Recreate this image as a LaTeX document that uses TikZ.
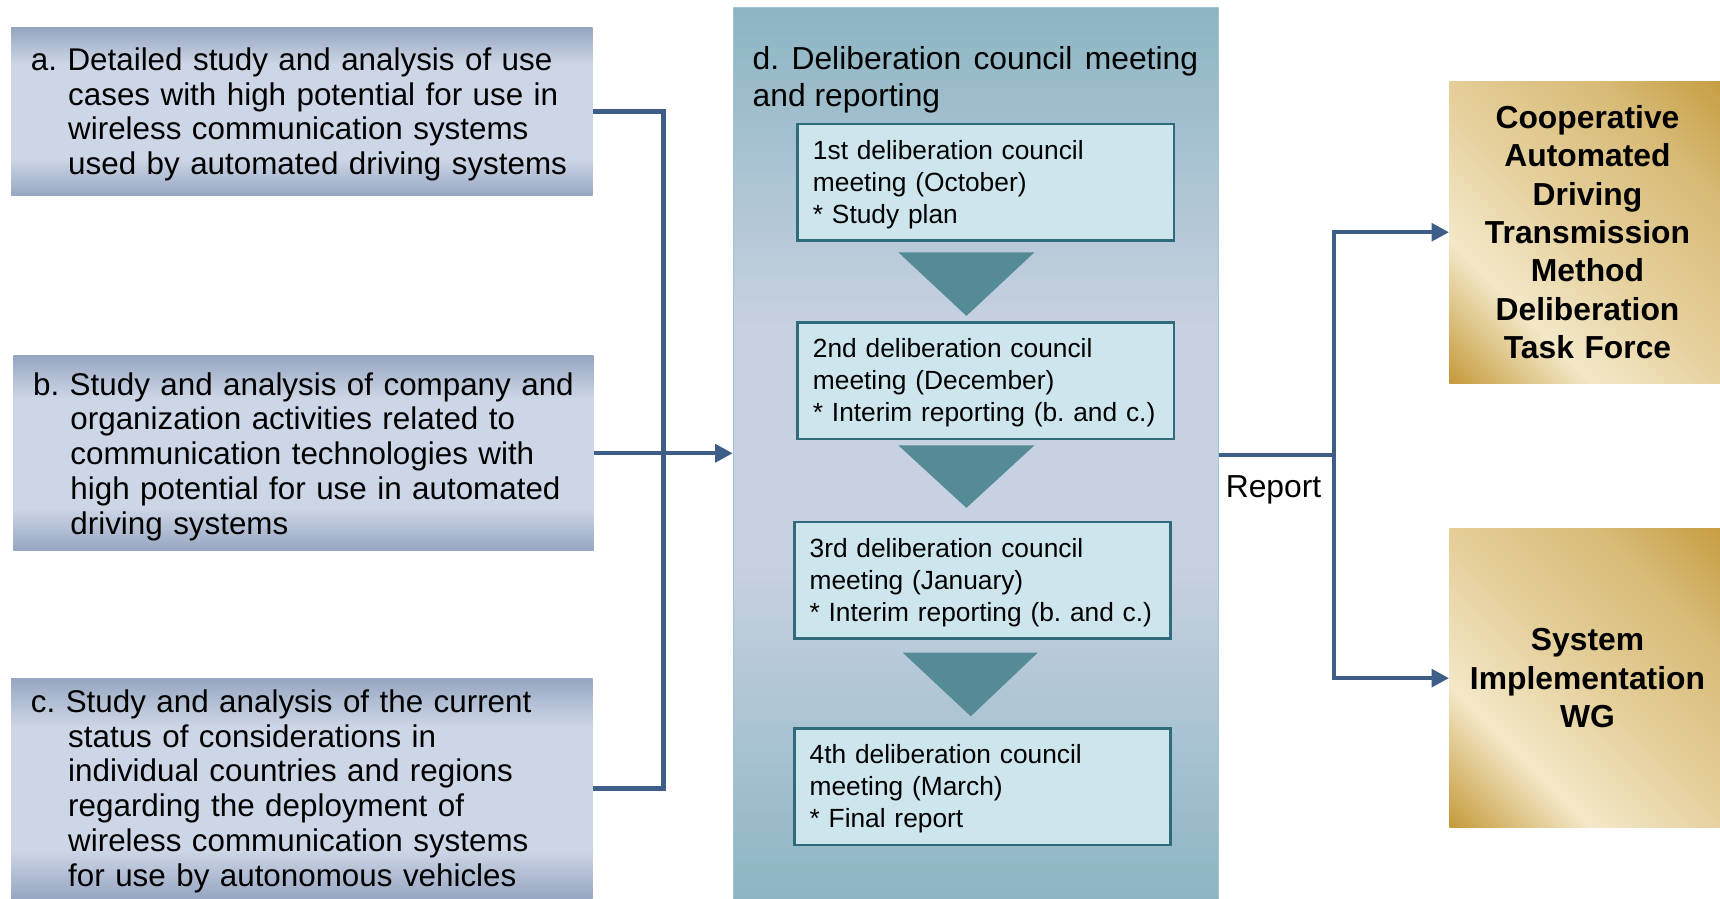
\documentclass[tikz,border=0pt]{standalone}
\usepackage{fontspec}
\setmainfont{Liberation Sans}
\usetikzlibrary{arrows.meta,calc}
\definecolor{conncol}{RGB}{62,94,135}
\definecolor{bluedark}{RGB}{150,166,193}
\definecolor{bluelight}{RGB}{205,214,230}
\definecolor{tealdark}{RGB}{140,181,195}
\definecolor{tealmid}{RGB}{200,209,225}
\definecolor{panelborder}{RGB}{160,195,207}
\definecolor{innerfill}{RGB}{205,229,237}
\definecolor{innerdraw}{RGB}{47,107,122}
\definecolor{trifill}{RGB}{85,139,151}
\definecolor{golddark}{RGB}{198,156,62}
\definecolor{goldmid}{RGB}{215,186,118}
\definecolor{goldlight}{RGB}{243,232,200}
\definecolor{goldpale}{RGB}{229,207,155}
\pgfdeclareverticalshading{bluebox}{100bp}{color(0bp)=(bluedark); color(25bp)=(bluedark); color(36bp)=(bluelight); color(64bp)=(bluelight); color(75bp)=(bluedark); color(100bp)=(bluedark)}
\pgfdeclareverticalshading{panelsh}{100bp}{color(0bp)=(tealdark); color(25bp)=(tealdark); color(44bp)=(tealmid); color(57bp)=(tealmid); color(75bp)=(tealdark); color(100bp)=(tealdark)}
\pgfdeclarehorizontalshading{goldsh}{100bp}{color(0bp)=(golddark); color(15bp)=(golddark); color(32bp)=(goldlight); color(50bp)=(goldpale); color(70bp)=(goldmid); color(86bp)=(golddark); color(100bp)=(golddark)}
\newcommand{\hind}{\hspace*{34pt}}
\newcommand{\shiftdn}[2]{\raisebox{-#1}[\height][\depth]{#2}}
\tikzset{
  lbox/.style={shade, shading=bluebox, anchor=north west, inner xsep=18pt, inner ysep=0pt, align=left, font=\fontsize{28.6pt}{31.7pt}\selectfont},
  ibox/.style={fill=innerfill, draw=innerdraw, line width=2.2pt, anchor=north west, minimum width=343pt, minimum height=106pt, text width=315pt, inner xsep=14pt, inner ysep=0pt, align=left, font=\fontsize{24pt}{29pt}\selectfont},
  gbox/.style={shade, shading=goldsh, shading angle=45, anchor=north west, minimum width=252pt, text width=240pt, inner sep=0pt, align=center, font=\bfseries\fontsize{29pt}{35pt}\selectfont},
  conn/.style={draw=conncol, line width=4pt},
  arr/.style={conn, -{Triangle[length=16pt,width=16pt]}},
  tri/.style={fill=trifill},
}
\begin{document}
\frenchspacing
\begin{tikzpicture}[x=1pt,y=-1pt]
\useasboundingbox (0,0) rectangle (1568,819);
% central panel
\node[shade, shading=panelsh, draw=panelborder, line width=1.2pt, anchor=north west, minimum width=442pt, minimum height=816pt, inner sep=0pt] (d) at (668,6) {};
\node[anchor=west, text width=406pt, inner sep=0pt, align=justify, font=\fontsize{29pt}{34pt}\selectfont] (dt) at (686,73) {d. Deliberation council meeting and reporting};
\node[ibox] (d1) at (726,112) {\shiftdn{2pt}{\parbox{315pt}{1st deliberation council\\meeting (October)\\{}* Study plan}}};
\node[ibox] (d2) at (726,293) {\shiftdn{2pt}{\parbox{315pt}{2nd deliberation council\\meeting (December)\\{}* Interim reporting (b. and c.)}}};
\node[ibox] (d3) at (723,475) {\shiftdn{2pt}{\parbox{315pt}{3rd deliberation council\\meeting (January)\\{}* Interim reporting (b. and c.)}}};
\node[ibox] (d4) at (723,663) {\shiftdn{2pt}{\parbox{315pt}{4th deliberation council\\meeting (March)\\{}* Final report}}};
\fill[tri] (819,230) -- (943,230) -- (881,288) -- cycle;
\fill[tri] (819,406) -- (943,406) -- (881,463) -- cycle;
\fill[tri] (823,595) -- (946,595) -- (885,653) -- cycle;
% left boxes
\node[lbox, minimum width=530pt, text width=494pt, minimum height=153pt] (a) at (10,25) {\shiftdn{2.5pt}{\parbox{494pt}{\mbox{a. Detailed study and analysis of use}\\\hind\mbox{cases with high potential for use in}\\\hind\mbox{wireless communication systems}\\\hind\mbox{used by automated driving systems}}}};
\node[lbox, minimum width=529pt, text width=493pt, minimum height=178pt] (b) at (12,324) {\shiftdn{3pt}{\parbox{493pt}{\mbox{b. Study and analysis of company and}\\\hind\mbox{organization activities related to}\\\hind\mbox{communication technologies with}\\\hind\mbox{high potential for use in automated}\\\hind\mbox{driving systems}}}};
\node[lbox, minimum width=530pt, text width=494pt, minimum height=201pt] (c) at (10,618) {\shiftdn{2.5pt}{\parbox{494pt}{\mbox{c. Study and analysis of the current}\\\hind\mbox{status of considerations in}\\\hind\mbox{individual countries and regions}\\\hind\mbox{regarding the deployment of}\\\hind\mbox{wireless communication systems}\\\hind\mbox{for use by autonomous vehicles}}}};
% right boxes
\node[gbox, minimum height=275pt] (tf) at (1321,74) {Cooperative\\Automated\\Driving\\Transmission\\Method\\Deliberation\\Task Force};
\node[gbox, minimum height=272pt] (wg) at (1321,482) {System\\Implementation\\WG};
% connectors
\coordinate (jl) at (605,413);
\draw[conn] (a.east) -| (jl);
\draw[conn] (c.east) -| (jl);
\draw[arr] (b.east) -- (d.west |- b.east);
\coordinate (jr) at ($(d.east)+(105,0)$);
\draw[conn] (d.east) -- (jr);
\draw[arr] (jr) |- (tf.west);
\draw[arr] (jr) |- (wg.west);
\node[inner sep=0pt, font=\fontsize{29pt}{31pt}\selectfont] (rep) at (1161,447) {Report};
\end{tikzpicture}
\end{document}
